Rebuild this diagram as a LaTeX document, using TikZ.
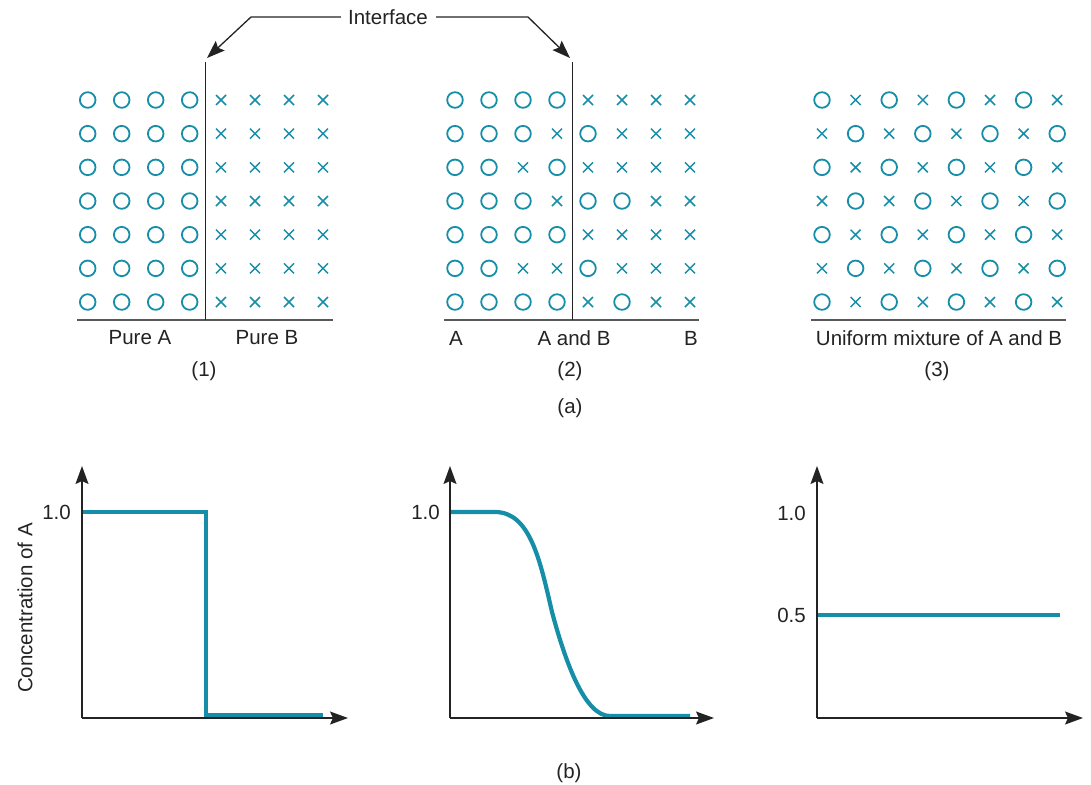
\documentclass[tikz,border=0pt]{standalone}
\usepackage{fontspec}
\setmainfont{Liberation Sans}
\usetikzlibrary{arrows.meta}
\definecolor{tealA}{RGB}{22,142,168}
\definecolor{ink}{RGB}{35,35,35}
\tikzset{
  lbl/.style={font=\fontsize{20.5}{24}\selectfont, text=ink, inner sep=0pt},
  molO/.style={draw=tealA, line width=1.8pt},
  molX/.style={draw=tealA, line width=1.5pt},
  axisline/.style={draw=ink, line width=1.3pt, -{Stealth[length=18pt,width=13pt,inset=3pt]}},
  conccurve/.style={draw=tealA, line width=4.2pt},
  ifaceline/.style={draw=ink, line width=1.3pt},
  baseline/.style={draw=black!65, line width=2pt},
  leader/.style={draw=ink, line width=1.3pt, -{Stealth[length=18pt,width=13pt,inset=3pt]}},
}
\newcommand\drawmol[3]{%
  \if#1O\draw[molO] (#2,#3) circle[radius=7.8pt];%
  \else\draw[molX] (#2-5,#3-5) -- (#2+5,#3+5) (#2-5,#3+5) -- (#2+5,#3-5);\fi}
\begin{document}
\begin{tikzpicture}[x=1pt,y=-1pt]
\useasboundingbox (0,0) rectangle (1091,784);

% ---------- (a) panel 1 ----------
\foreach \r in {0,...,6}{
  \foreach \c in {0,...,7}{
    \pgfmathsetmacro\xx{\c<4 ? 87.7+34*\c : 221+34*(\c-4)}
    \pgfmathsetmacro\yy{100+33.67*\r}
    \ifnum\c<4 \drawmol{O}{\xx}{\yy}\else\drawmol{X}{\xx}{\yy}\fi
  }
}
\coordinate (b1L) at (77,320);
\coordinate (b1R) at (333,320);
\coordinate (i1T) at (205.7,62);
\coordinate (i1B) at (205.7,320);
\draw[baseline] (b1L) -- (b1R);
\draw[ifaceline] (i1T) -- (i1B);
\node[lbl] (pureA) at (140,338) {Pure A};
\node[lbl] (pureB) at (267,338) {Pure B};
\node[lbl] (n1) at (204,371) {(1)};

% ---------- (a) panel 2 ----------
\foreach \r/\p in {0/{O,O,O,O,X,X,X,X},1/{O,O,O,X,O,X,X,X},2/{O,O,X,O,X,X,X,X},
                   3/{O,O,O,X,O,O,X,X},4/{O,O,O,O,X,X,X,X},5/{O,O,X,X,O,X,X,X},
                   6/{O,O,O,O,X,O,X,X}}{
  \foreach \t [count=\c from 0] in \p {
    \pgfmathsetmacro\xx{\c<4 ? 455+34*\c : 588+34*(\c-4)}
    \pgfmathsetmacro\yy{100+33.67*\r}
    \drawmol{\t}{\xx}{\yy}
  }
}
\coordinate (b2L) at (444,320);
\coordinate (b2R) at (699,320);
\coordinate (i2T) at (572.7,62);
\coordinate (i2B) at (572.7,320);
\draw[baseline] (b2L) -- (b2R);
\draw[ifaceline] (i2T) -- (i2B);
\node[lbl] (lA) at (456,338) {A};
\node[lbl] (lAB) at (574,338) {A and B};
\node[lbl] (lB) at (691,338) {B};
\node[lbl] (n2) at (570,371) {(2)};

% ---------- (a) panel 3 ----------
\foreach \r in {0,...,6}{
  \foreach \c in {0,...,7}{
    \pgfmathsetmacro\xx{822+33.6*\c}
    \pgfmathsetmacro\yy{100+33.67*\r}
    \pgfmathtruncatemacro\parity{mod(\r+\c,2)}
    \ifnum\parity=0 \drawmol{O}{\xx}{\yy}\else\drawmol{X}{\xx}{\yy}\fi
  }
}
\coordinate (b3L) at (811,320);
\coordinate (b3R) at (1066,320);
\draw[baseline] (b3L) -- (b3R);
\node[lbl] (lmix) at (939,338) {Uniform mixture of A and B};
\node[lbl] (n3) at (937,371) {(3)};

\node[lbl] (capa) at (570,408) {(a)};

% ---------- Interface leaders ----------
\node[lbl] (iface) at (388,17) {Interface};
\coordinate (kL) at (251,17);
\coordinate (kR) at (528,17);
\coordinate (tL) at (207,58);
\coordinate (tR) at (570,58);
\draw[leader] ([xshift=-7pt]iface.west) -- (kL) -- (tL);
\draw[leader] ([xshift=8pt]iface.east) -- (kR) -- (tR);

% ---------- (b) plot 1 ----------
\coordinate (o1) at (82,718);
\coordinate (y1) at (82,466);
\coordinate (x1) at (348,718);
\draw[conccurve] (82,512) -- (205.7,512) -- (205.7,715.5) -- (323,715.5);
\draw[axisline] (o1) -- (y1);
\draw[axisline] (o1) -- (x1);
\node[lbl, anchor=east] (v1) at (71,512) {1.0};
\node[lbl, rotate=90] (yl) at (25,608) {Concentration of A};

% ---------- (b) plot 2 ----------
\coordinate (o2) at (450,718);
\coordinate (y2) at (450,466);
\coordinate (x2) at (714,718);
\draw[conccurve] (450,512) -- (495,512) .. controls (530,512) and (540,560) .. (552,612)
   .. controls (566,664) and (585,716) .. (610,716) -- (690,716);
\draw[axisline] (o2) -- (y2);
\draw[axisline] (o2) -- (x2);
\node[lbl, anchor=east] (v2) at (440,512) {1.0};

% ---------- (b) plot 3 ----------
\coordinate (o3) at (817,718);
\coordinate (y3) at (817,466);
\coordinate (x3) at (1083,718);
\draw[conccurve] (817,615) -- (1060,615);
\draw[axisline] (o3) -- (y3);
\draw[axisline] (o3) -- (x3);
\node[lbl, anchor=east] (v3a) at (806,513) {1.0};
\node[lbl, anchor=east] (v3b) at (806,615) {0.5};

\node[lbl] (capb) at (569,773) {(b)};
\end{tikzpicture}
\end{document}
